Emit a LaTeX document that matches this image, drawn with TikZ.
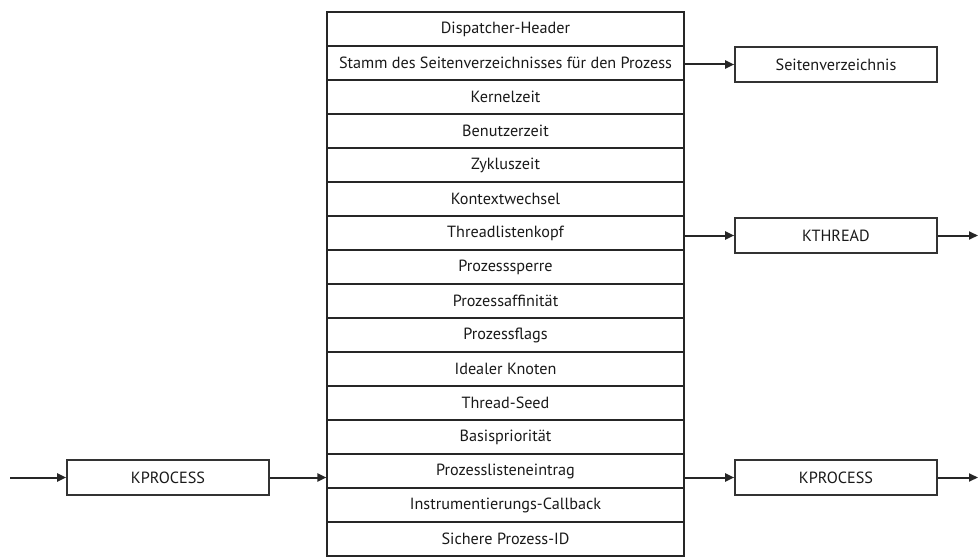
\documentclass[tikz,border=0pt]{standalone}
\usepackage{fontspec}
\setmainfont{PT Sans}
\usetikzlibrary{arrows.meta}
\begin{document}
\begin{tikzpicture}[x=1pt,y=-1pt,
  field/.style={draw=black!85, line width=1.1pt, minimum width=357pt, minimum height=34pt,
    inner sep=0pt, font=\fontsize{16.2}{18}\selectfont, text=black!90},
  ref/.style={draw=black!80, line width=1.6pt, minimum width=202pt, minimum height=35pt,
    inner sep=0pt, font=\fontsize{16.2}{18}\selectfont, text=black!90},
  arr/.style={line width=2pt, draw=black!85, -{Triangle[length=9pt,width=8pt]}}]
\useasboundingbox (0,0) rectangle (980,559);
% structure fields
\foreach \t [count=\i] in {Dispatcher-Header,
  Stamm des Seitenverzeichnisses für den Prozess,
  Kernelzeit, Benutzerzeit, Zykluszeit, Kontextwechsel, Threadlistenkopf,
  Prozesssperre, Prozessaffinität, Prozessflags, Idealer Knoten, Thread-Seed,
  Basispriorität, Prozesslisteneintrag, Instrumentierungs-Callback,
  Sichere Prozess-ID}
  \node[field] (r\i) at (505.5, {12+17+34*(\i-1)}) {\t};
% referenced objects
\node[ref] (sv) at (836, 64.5) {Seitenverzeichnis};
\node[ref] (kt) at (836, 235.5) {KTHREAD};
\node[ref] (kpr) at (836, 477.5) {KPROCESS};
\node[ref] (kpl) at (168, 477.5) {KPROCESS};
\coordinate (in) at (10, 477.5);
\coordinate (out1) at (978, 235.5);
\coordinate (out2) at (978, 477.5);
% links
\draw[arr] (r2.east |- sv.west) -- (sv.west);
\draw[arr] (r7.east |- kt.west) -- (kt.west);
\draw[arr] (kt.east) -- (out1);
\draw[arr] (r14.east |- kpr.west) -- (kpr.west);
\draw[arr] (kpr.east) -- (out2);
\draw[arr] (in) -- (kpl.west);
\draw[arr] (kpl.east) -- (r14.west |- kpl.east);
\end{tikzpicture}
\end{document}
